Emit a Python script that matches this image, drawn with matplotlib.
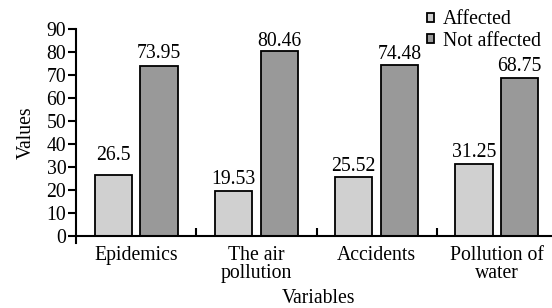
import matplotlib
matplotlib.use("Agg")
import matplotlib.pyplot as plt
import numpy as np
from matplotlib.patches import Patch

categories = ["Epidemics", "The air\npollution", "Accidents", "Pollution of\nwater"]
affected = [26.5, 19.53, 25.52, 31.25]
not_affected = [73.95, 80.46, 74.48, 68.75]
affected_labels = ["26.5", "19.53", "25.52", "31.25"]
not_affected_labels = ["73.95", "80.46", "74.48", "68.75"]
yticks = list(range(0, 100, 10))

# label gap above bar top (points) - style only
aff_gap = [10.8, 5.0, 4.6, 5.0]
not_gap = [5.8, 3.8, 4.4, 5.0]

plt.rcParams['font.family'] = ['Liberation Serif', 'DejaVu Serif']
FS = 14.2

fig = plt.figure(figsize=(5.52, 3.08), dpi=100)
ax = fig.add_axes([76/552, 1-236/308, 481/552, (236-29)/308])

x = np.arange(len(categories))
w = 0.31
off = 0.19
c1, c2 = "#d0d0d0", "#999999"
ax.bar(x - off, affected, w, color=c1, edgecolor="black", linewidth=1.3)
ax.bar(x + off, not_affected, w, color=c2, edgecolor="black", linewidth=1.3)
for xi, v, s, g in zip(x, affected, affected_labels, aff_gap):
    ax.annotate(s, (xi - off, v), xytext=(0, g), textcoords="offset points",
                ha="center", va="baseline", fontsize=FS)
for xi, v, s, g in zip(x, not_affected, not_affected_labels, not_gap):
    ax.annotate(s, (xi + off, v), xytext=(0, g), textcoords="offset points",
                ha="center", va="baseline", fontsize=FS)

ax.set_xlim(-0.5, 3.5)
ax.set_ylim(0, 90)
ax.set_yticks(yticks)
ax.tick_params(axis="y", direction="out", length=6, width=1.5, pad=1, labelsize=FS)
ax.set_xticks([0.5, 1.5, 2.5])
ax.set_xticklabels([])
ax.tick_params(axis="x", which="major", direction="in", length=6, width=1.5)
ax.set_xticks(x, minor=True)
ax.set_xticklabels(categories, minor=True, fontsize=FS, linespacing=0.95)
ax.tick_params(axis="x", which="minor", length=0, pad=7)

for s in ["top", "right"]:
    ax.spines[s].set_visible(False)
for s in ["left", "bottom"]:
    ax.spines[s].set_linewidth(1.5)
ax.spines["left"].set_bounds(-3, 90)

ax.set_ylabel("Values", fontsize=FS, labelpad=8)
ax.set_xlabel("Variables", fontsize=FS)
ax.xaxis.set_label_coords(0.504, -0.255)

handles = [Patch(facecolor=c1, edgecolor="black", linewidth=1.3),
           Patch(facecolor=c2, edgecolor="black", linewidth=1.3)]
fig.legend(handles, ["Affected", "Not affected"], loc="upper left",
           bbox_to_anchor=(413/552, 1.0115), frameon=False, fontsize=FS,
           handlelength=0.35, handleheight=0.35, handletextpad=0.46,
           labelspacing=0.12, borderpad=0.2)

fig.savefig("out.png", dpi=100)
